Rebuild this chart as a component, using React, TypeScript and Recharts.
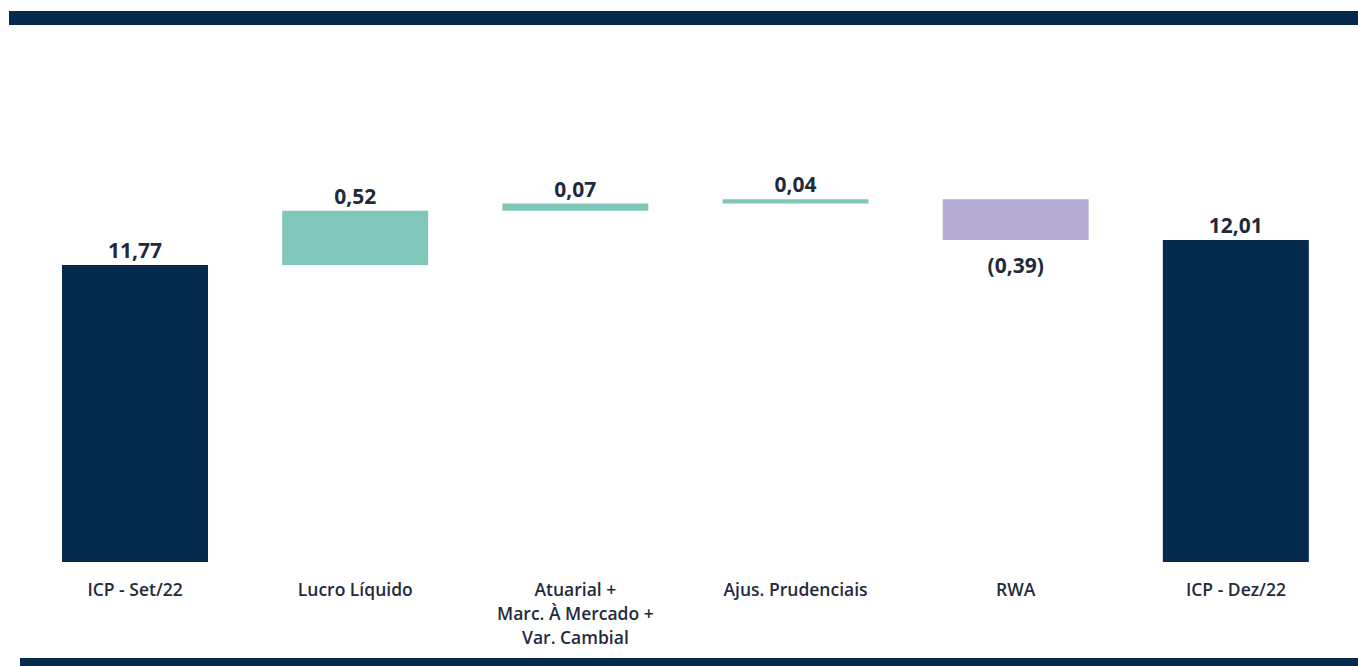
import React from 'react';
import { BarChart, Bar, XAxis, YAxis, Cell, LabelList } from 'recharts';

const categories = [
  'ICP - Set/22',
  'Lucro Líquido',
  'Atuarial +\nMarc. À Mercado +\nVar. Cambial',
  'Ajus. Prudenciais',
  'RWA',
  'ICP - Dez/22',
];
const values = [11.77, 0.52, 0.07, 0.04, -0.39, 12.01];
const kinds = ['total', 'delta', 'delta', 'delta', 'delta', 'total'];

const NAVY = '#062a4b';
const TEAL = '#80c6b9';
const LAVENDER = '#b4acd3';
const TEXT = '#1f2b3b';

const data = (() => {
  let running = 0;
  return categories.map((c, i) => {
    const v = values[i];
    let range: [number, number];
    if (kinds[i] === 'total') {
      running = v;
      range = [0, v];
    } else {
      const start = running;
      running = start + v;
      range = [Math.min(start, running), Math.max(start, running)];
    }
    return { name: c, range, value: v, kind: kinds[i] };
  });
})();

const fmt = (v: number) => {
  const s = Math.abs(v).toFixed(2).replace('.', ',');
  return v < 0 ? `(${s})` : s;
};

const colorFor = (i: number) =>
  kinds[i] === 'total' ? NAVY : values[i] >= 0 ? TEAL : LAVENDER;

const Tick = (props: any) => {
  const { x, y, payload } = props;
  const lines = String(payload.value).split('\n');
  return (
    <g>
      {lines.map((l, i) => (
        <text
          key={i}
          x={x}
          y={y}
          dy={25.5 + i * 24}
          textAnchor="middle"
          fontFamily="'Open Sans', sans-serif"
          fontWeight={600}
          fontSize={17.5}
          fill={TEXT}
        >
          {l}
        </text>
      ))}
    </g>
  );
};

const ValueLabel = (props: any) => {
  const { x, y, width, height, index } = props;
  const v = values[index];
  const cx = x + width / 2;
  const top = Math.min(y, y + height);
  const bottom = Math.max(y, y + height);
  const ty = v < 0 ? bottom + 33 : top - 7;
  return (
    <text
      x={cx}
      y={ty}
      textAnchor="middle"
      fontFamily="'Open Sans', sans-serif"
      fontWeight={700}
      fontSize={21}
      fill={TEXT}
    >
      {fmt(v)}
    </text>
  );
};

export default function App() {
  return (
    <div style={{ position: 'absolute', left: 0, top: 0, width: 1358, height: 666, background: '#fff' }}>
      <div style={{ position: 'absolute', left: 9, top: 11, width: 1349, height: 14, background: NAVY }} />
      <div style={{ position: 'absolute', left: 20, top: 658, width: 1338, height: 8, background: NAVY }} />
      <div style={{ position: 'absolute', left: 0, top: 0 }}>
        <BarChart
          width={1358}
          height={666}
          data={data}
          margin={{ top: 42, right: 12, left: 25, bottom: 0 }}
          barSize={146}
        >
          <XAxis
            dataKey="name"
            axisLine={false}
            tickLine={false}
            height={104}
            interval={0}
            tick={<Tick />}
          />
          <YAxis hide domain={[8.92, 13.91]} allowDataOverflow />
          <Bar dataKey="range" isAnimationActive={false}>
            {data.map((d, i) => (
              <Cell key={i} fill={colorFor(i)} />
            ))}
            <LabelList dataKey="value" content={<ValueLabel />} />
          </Bar>
        </BarChart>
      </div>
    </div>
  );
}
